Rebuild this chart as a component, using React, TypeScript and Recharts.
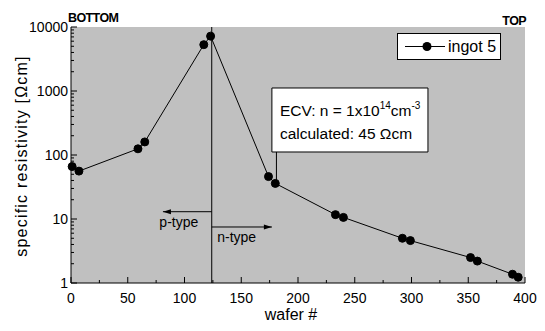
import {
  LineChart,
  Line,
  XAxis,
  YAxis,
  CartesianGrid,
  ReferenceLine,
  ReferenceArea,
  ReferenceDot,
  Legend,
  Customized,
} from "recharts";

// wafer position vs. measured resistivity (ingot 5)
const wafers = [1, 7, 59, 65, 117, 123, 174, 180, 233, 240, 292, 299, 352, 358, 389, 394];
const resistivity = [66, 56, 125, 160, 5300, 7200, 46, 36, 11.7, 10.6, 5.0, 4.6, 2.5, 2.2, 1.37, 1.23];

const xMajorTicks = [0, 50, 100, 150, 200, 250, 300, 350, 400];
const xMinorTicks = [25, 75, 125, 175, 225, 275, 325, 375];
const yMajorTicks = [1, 10, 100, 1000, 10000];
const yMinorTicks = yMajorTicks.slice(0, -1).flatMap((d) => [2, 3, 4, 5, 6, 7, 8, 9].map((m) => m * d));

// annotation values
const junctionWafer = 124;
const pArrow = { from: 124, to: 81, y: 13, labelX: 95 };
const nArrow = { from: 124, to: 177, y: 7.5, labelX: 146 };
const ecvBox = { x1: 177, x2: 314.5, y1: 111.4, y2: 1114 };
const ecvPoint = { x: 181, y: 36 };

const data = wafers.map((w, i) => ({ wafer: w, rho: resistivity[i] }));

const xTicks = [...xMajorTicks, ...xMinorTicks].sort((a, b) => a - b);
const yTicks = [...yMajorTicks, ...yMinorTicks].sort((a, b) => a - b);

const FONT = "'Liberation Sans', Arial, Helvetica, sans-serif";

const XTick = ({ x, y, payload, dir, showLabel }: any) => {
  const major = xMajorTicks.includes(payload.value);
  const len = major ? 6 : 3;
  return (
    <g>
      <line x1={x} x2={x} y1={y} y2={y - dir * len} stroke="#000" />
      {showLabel && major && (
        <text x={x} y={y + 20} textAnchor="middle" fontSize={14} fill="#000">
          {payload.value}
        </text>
      )}
    </g>
  );
};

const YTick = ({ x, y, payload, dir, showLabel }: any) => {
  const major = yMajorTicks.includes(payload.value);
  const len = major ? 6 : 3;
  return (
    <g>
      <line x1={x} x2={x + dir * len} y1={y} y2={y} stroke="#000" />
      {showLabel && major && (
        <text x={x - 3} y={y + 5} textAnchor="end" fontSize={14} fill="#000">
          {payload.value}
        </text>
      )}
    </g>
  );
};

const ArrowHead = ({ cx, cy, dir }: any) => (
  <path d={`M${cx},${cy} L${cx - dir * 8},${cy - 2.5} L${cx - dir * 8},${cy + 2.5} Z`} fill="#000" />
);

const TypeText = ({ cx, cy, text }: any) => (
  <text x={cx} y={cy + 15} textAnchor="middle" fontSize={14} fill="#000">
    {text}
  </text>
);

const EcvLabel = ({ viewBox }: any) => {
  const { x, y } = viewBox;
  return (
    <g fontSize={15.5} fill="#000">
      <text x={x + 8} y={y + 28}>
        ECV: n = 1x10
        <tspan fontSize={10} dy={-7}>14</tspan>
        <tspan dy={7}>cm</tspan>
        <tspan fontSize={10} dy={-7}>-3</tspan>
      </text>
      <text x={x + 8} y={y + 51}>calculated: 45 Ωcm</text>
    </g>
  );
};

const LegendBox = () => (
  <div
    style={{
      boxSizing: "border-box",
      width: 104,
      height: 27,
      border: "1px solid #000",
      background: "#fff",
      display: "flex",
      alignItems: "center",
      fontFamily: FONT,
      fontSize: 16,
      color: "#000",
    }}
  >
    <svg width={50} height={25}>
      <line x1={7} x2={47} y1={12.5} y2={12.5} stroke="#000" />
      <circle cx={29} cy={12.5} r={4.5} fill="#000" />
    </svg>
    <span>ingot 5</span>
  </div>
);

const Titles = () => (
  <g fill="#000">
    <text x={68} y={22} fontSize={12.5} fontWeight="bold" letterSpacing={-0.6}>
      BOTTOM
    </text>
    <text x={526} y={25} fontSize={12.5} fontWeight="bold" letterSpacing={-0.6} textAnchor="end">
      TOP
    </text>
    <text x={291} y={320} fontSize={16} textAnchor="middle">
      wafer #
    </text>
    <text
      x={22}
      y={156}
      fontSize={16}
      textAnchor="middle"
      letterSpacing={1.2}
      transform="rotate(-90 22 156)"
      dy={5}
    >
      specific resistivity [Ωcm]
    </text>
  </g>
);

export default function App() {
  return (
    <div style={{ width: 545, height: 331, background: "#fff" }}>
      <style>{`body{margin:0}`}</style>
      <LineChart
        width={545}
        height={331}
        data={data}
        margin={{ top: 27, right: 20, left: 0, bottom: 0 }}
        style={{ fontFamily: FONT }}
      >
        <CartesianGrid
          xAxisId="bottom"
          yAxisId="left"
          horizontal={false}
          vertical={false}
          fill="#c0c0c0"
          fillOpacity={1}
        />
        <XAxis
          xAxisId="bottom"
          dataKey="wafer"
          type="number"
          domain={[0, 400]}
          ticks={xTicks}
          interval={0}
          height={48}
          tickSize={0}
          tickMargin={0}
          tickLine={false}
          axisLine={{ stroke: "#000" }}
          tick={<XTick dir={1} showLabel />}
        />
        <XAxis
          xAxisId="top"
          orientation="top"
          type="number"
          domain={[0, 400]}
          ticks={xTicks}
          interval={0}
          height={0}
          tickSize={0}
          tickMargin={0}
          tickLine={false}
          axisLine={{ stroke: "#000" }}
          tick={<XTick dir={-1} />}
        />
        <YAxis
          yAxisId="left"
          type="number"
          scale="log"
          domain={[1, 10000]}
          allowDataOverflow
          ticks={yTicks}
          interval={0}
          width={71}
          tickSize={0}
          tickMargin={0}
          tickLine={false}
          axisLine={{ stroke: "#000" }}
          tick={<YTick dir={1} showLabel />}
        />
        <YAxis
          yAxisId="right"
          orientation="right"
          type="number"
          scale="log"
          domain={[1, 10000]}
          allowDataOverflow
          ticks={yTicks}
          interval={0}
          width={0}
          tickSize={0}
          tickMargin={0}
          tickLine={false}
          axisLine={{ stroke: "#000" }}
          tick={<YTick dir={-1} />}
        />
        <ReferenceLine xAxisId="bottom" yAxisId="left" x={junctionWafer} stroke="#000" />
        <ReferenceLine
          xAxisId="bottom"
          yAxisId="left"
          segment={[
            { x: pArrow.from, y: pArrow.y },
            { x: pArrow.to, y: pArrow.y },
          ]}
          stroke="#000"
        />
        <ReferenceDot
          xAxisId="bottom"
          yAxisId="left"
          x={pArrow.to}
          y={pArrow.y}
          r={0}
          shape={(p: any) => <ArrowHead {...p} dir={-1} />}
        />
        <ReferenceDot
          xAxisId="bottom"
          yAxisId="left"
          x={pArrow.labelX}
          y={pArrow.y}
          r={0}
          shape={(p: any) => <TypeText {...p} text="p-type" />}
        />
        <ReferenceLine
          xAxisId="bottom"
          yAxisId="left"
          segment={[
            { x: nArrow.from, y: nArrow.y },
            { x: nArrow.to, y: nArrow.y },
          ]}
          stroke="#000"
        />
        <ReferenceDot
          xAxisId="bottom"
          yAxisId="left"
          x={nArrow.to}
          y={nArrow.y}
          r={0}
          shape={(p: any) => <ArrowHead {...p} dir={1} />}
        />
        <ReferenceDot
          xAxisId="bottom"
          yAxisId="left"
          x={nArrow.labelX}
          y={nArrow.y}
          r={0}
          shape={(p: any) => <TypeText {...p} text="n-type" />}
        />
        <ReferenceLine
          xAxisId="bottom"
          yAxisId="left"
          segment={[
            { x: ecvPoint.x, y: ecvBox.y1 },
            { x: ecvPoint.x, y: ecvPoint.y },
          ]}
          stroke="#000"
        />
        <ReferenceArea
          xAxisId="bottom"
          yAxisId="left"
          x1={ecvBox.x1}
          x2={ecvBox.x2}
          y1={ecvBox.y1}
          y2={ecvBox.y2}
          fill="#fff"
          fillOpacity={1}
          stroke="#000"
          label={<EcvLabel />}
        />
        <Line
          xAxisId="bottom"
          yAxisId="left"
          dataKey="rho"
          name="ingot 5"
          stroke="#000"
          strokeWidth={1}
          dot={{ r: 4, fill: "#000", stroke: "#000", strokeWidth: 1 }}
          isAnimationActive={false}
        />
        <Legend
          layout="horizontal"
          verticalAlign="middle"
          align="center"
          content={<LegendBox />}
          wrapperStyle={{ top: 33, left: 397, width: 104, height: 27 }}
        />
        <Customized component={<Titles />} />
      </LineChart>
    </div>
  );
}
